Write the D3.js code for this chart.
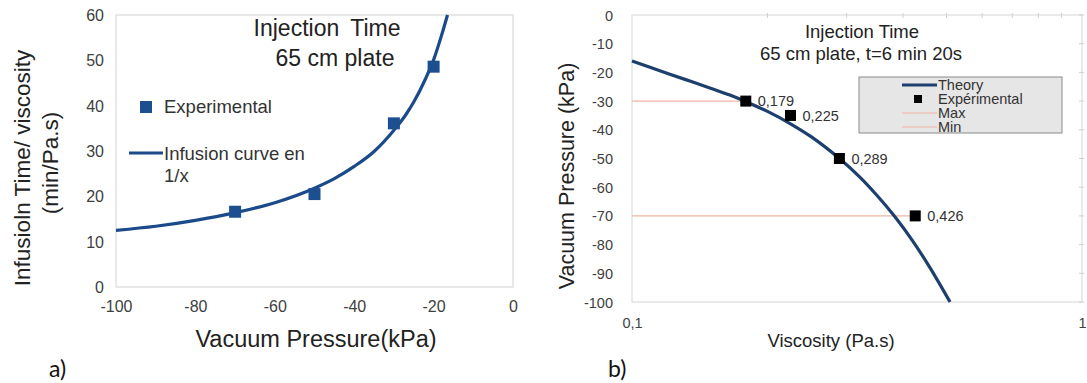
<!DOCTYPE html>
<html><head><meta charset="utf-8">
<script src="https://cdn.jsdelivr.net/npm/d3@7"></script>
<style>
html,body{margin:0;padding:0;background:#fff;}
svg{display:block;font-family:"Liberation Sans",Arial,sans-serif;}
</style></head>
<body><svg id="c" width="1087" height="383"></svg>
<script>
// ---------- Data: chart a) ----------
const aCurvePressure = [-100,-90,-80,-70,-60,-50,-45,-40,-35,-30,-27,-25,-22,-20,-18,-16.5];
const aCurveTime     = [12.5,13.4,14.7,16.4,18.6,21.8,23.9,26.6,29.9,34.6,38.0,40.8,46.0,50.1,55.5,60];
const aExpPressure   = [-70,-50,-30,-20];
const aExpTime       = [16.6,20.5,36.1,48.6];
const aXTicks = [-100,-80,-60,-40,-20,0];
const aYTicks = [0,10,20,30,40,50,60];

// ---------- Data: chart b) ----------
const bTheoryVisc = [0.1,0.12,0.135,0.15,0.165,0.179,0.2,0.225,0.25,0.289,0.32,0.35,0.384,0.42,0.46,0.509];
const bTheoryP    = [-16,-20.4,-23.1,-25.6,-27.9,-30.2,-33.6,-37.9,-42.4,-50,-56.3,-62.8,-70.3,-78.6,-88.2,-100];
const bExpVisc    = [0.179,0.225,0.289,0.426];
const bExpP       = [-30,-35,-50,-70];
const bExpLabels  = ["0,179","0,225","0,289","0,426"];
const bMaxVisc = [0.1,0.179], bMaxP = [-30,-30];
const bMinVisc = [0.1,0.426], bMinP = [-70,-70];
const bYTicks = [0,-10,-20,-30,-40,-50,-60,-70,-80,-90,-100];
const bXTicks = [0.1,1];
const bXTickLabels = ["0,1","1"];
const bMinorTicks = [0.2,0.3,0.4,0.5,0.6,0.7,0.8,0.9];

const svg = d3.select("#c");
const navyA = "#1b4a8a", navyB = "#1d3f6e";

// ================= Chart a) =================
{
  const L=116,R=513,T=15,B=287;
  const x = d3.scaleLinear().domain([-100,0]).range([L,R]);
  const y = d3.scaleLinear().domain([0,60]).range([B,T]);
  const g = svg.append("g");
  g.append("rect").attr("x",L).attr("y",T).attr("width",R-L).attr("height",B-T)
    .attr("fill","none").attr("stroke","#d9d9d9").attr("stroke-width",1.2);
  const yAx = g.append("g").attr("transform",`translate(${L-12},0)`)
    .call(d3.axisLeft(y).tickValues(aYTicks).tickSize(0).tickPadding(0).tickFormat(d=>String(d)));
  const xAx = g.append("g").attr("transform",`translate(0,${B+14})`)
    .call(d3.axisBottom(x).tickValues(aXTicks).tickSize(0).tickPadding(0).tickFormat(d=>String(d)));
  [yAx,xAx].forEach(a=>{a.select(".domain").remove();
    a.selectAll("text").attr("fill","#404040").style("font-size","16px").style("font-family","Liberation Sans, Arial, sans-serif");});
  yAx.selectAll("text").attr("dy","0.35em");
  xAx.selectAll("text").attr("dy","0.71em");

  g.append("defs").append("clipPath").attr("id","clipA").append("rect")
    .attr("x",L).attr("y",T-1).attr("width",R-L).attr("height",B-T+1);
  const line = d3.line().curve(d3.curveMonotoneX).x(d=>x(d[0])).y(d=>y(d[1]));
  g.append("path").attr("clip-path","url(#clipA)")
    .attr("d",line(d3.zip(aCurvePressure,aCurveTime)))
    .attr("fill","none").attr("stroke",navyA).attr("stroke-width",3.2);
  g.selectAll(".ma").data(d3.zip(aExpPressure,aExpTime)).join("rect")
    .attr("x",d=>x(d[0])-6).attr("y",d=>y(d[1])-6).attr("width",12).attr("height",12)
    .attr("fill","#1c4f8f");

  const t = g.append("text").attr("text-anchor","middle").attr("fill","#222").style("font-size","23px");
  t.append("tspan").attr("x",327).attr("y",36).attr("word-spacing","5px").text("Injection Time");
  t.append("tspan").attr("x",335).attr("y",66).text("65 cm plate");

  g.append("rect").attr("x",140).attr("y",101).attr("width",12).attr("height",12).attr("fill","#1c4f8f");
  g.append("text").attr("x",164).attr("y",113).attr("fill","#333").style("font-size","18.5px").text("Experimental");
  g.append("line").attr("x1",129).attr("x2",163).attr("y1",153).attr("y2",153).attr("stroke",navyA).attr("stroke-width",3.2);
  const lt = g.append("text").attr("fill","#333").style("font-size","18.5px");
  lt.append("tspan").attr("x",164).attr("y",160).text("Infusion curve en");
  lt.append("tspan").attr("x",164).attr("y",182).text("1/x");

  g.append("text").attr("x",316).attr("y",347).attr("text-anchor","middle").attr("fill","#222")
    .style("font-size","23.5px").text("Vacuum Pressure(kPa)");
  const yt = g.append("text").attr("transform","translate(0,168) rotate(-90)").attr("text-anchor","middle")
    .attr("fill","#222").style("font-size","22.5px");
  yt.append("tspan").attr("x",0).attr("y",30).text("Infusioln Time/ viscosity");
  yt.append("tspan").attr("x",5).attr("y",58).text("(min/Pa.s)");

  g.append("text").attr("x",49).attr("y",377).attr("fill","#111").style("font-family","Lato, 'Open Sans', sans-serif")
    .style("font-size","23px").text("a)");
}

// ================= Chart b) =================
{
  const L=632,R=1082,T=15,B=302;
  const x = d3.scaleLog().domain([0.1,1]).range([L,R]);
  const y = d3.scaleLinear().domain([-100,0]).range([B,T]);
  const g = svg.append("g");
  g.append("rect").attr("x",L).attr("y",T).attr("width",R-L).attr("height",B-T)
    .attr("fill","none").attr("stroke","#dcdcdc").attr("stroke-width",1.2);
  g.selectAll(".tt").data(bMinorTicks).join("line")
    .attr("x1",d=>x(d)).attr("x2",d=>x(d)).attr("y1",T-2).attr("y2",T+3)
    .attr("stroke","#d0d0d0").attr("stroke-width",1);
  g.selectAll(".rt").data(bYTicks).join("line")
    .attr("x1",R-3).attr("x2",R+2).attr("y1",d=>y(d)).attr("y2",d=>y(d))
    .attr("stroke","#d0d0d0").attr("stroke-width",1);

  const yAx = g.append("g").attr("transform",`translate(${L-19},0)`)
    .call(d3.axisLeft(y).tickValues(bYTicks).tickSize(0).tickPadding(0).tickFormat(d=>String(d)));
  const xAx = g.append("g").attr("transform",`translate(0,${B+16})`)
    .call(d3.axisBottom(x).tickValues(bXTicks).tickSize(0).tickPadding(0).tickFormat((d,i)=>bXTickLabels[i]));
  [yAx,xAx].forEach(a=>{a.select(".domain").remove();
    a.selectAll("text").attr("fill","#404040").style("font-size","14.5px").style("font-family","Liberation Sans, Arial, sans-serif");});
  yAx.selectAll("text").attr("dy","0.35em");
  xAx.selectAll("text").attr("dy","0.71em");

  const lin = d3.line().x(d=>x(d[0])).y(d=>y(d[1]));
  g.append("path").attr("d",lin(d3.zip(bMaxVisc,bMaxP))).attr("stroke","#f0b4a6").attr("stroke-width",1.2).attr("fill","none");
  g.append("path").attr("d",lin(d3.zip(bMinVisc,bMinP))).attr("stroke","#f0b4a6").attr("stroke-width",1.2).attr("fill","none");

  const curve = d3.line().curve(d3.curveCatmullRom.alpha(0.5)).x(d=>x(d[0])).y(d=>y(d[1]));
  g.append("path").attr("d",curve(d3.zip(bTheoryVisc,bTheoryP)))
    .attr("fill","none").attr("stroke",navyB).attr("stroke-width",3.2);

  const pts = d3.zip(bExpVisc,bExpP,bExpLabels);
  g.selectAll(".mb").data(pts).join("rect")
    .attr("x",d=>x(d[0])-5.5).attr("y",d=>y(d[1])-5.5).attr("width",11).attr("height",11).attr("fill","#000");
  g.selectAll(".lb").data(pts).join("text")
    .attr("x",d=>x(d[0])+12).attr("y",d=>y(d[1])).attr("dy","0.35em")
    .attr("fill","#333").style("font-size","14.5px").text(d=>d[2]);

  const t = g.append("text").attr("text-anchor","middle").attr("fill","#222").style("font-size","18.5px");
  t.append("tspan").attr("x",862).attr("y",38).text("Injection Time");
  t.append("tspan").attr("x",861).attr("y",60).text("65 cm plate, t=6 min 20s");

  const lx=859, ly=77;
  g.append("rect").attr("x",lx).attr("y",ly).attr("width",203).attr("height",56)
    .attr("fill","#e6e6e6").attr("stroke","#8a8a8a").attr("stroke-width",1);
  g.append("line").attr("x1",902).attr("x2",937).attr("y1",85).attr("y2",85).attr("stroke",navyB).attr("stroke-width",3);
  g.append("rect").attr("x",914).attr("y",95).attr("width",8).attr("height",8).attr("fill","#000");
  g.append("line").attr("x1",902).attr("x2",937).attr("y1",113).attr("y2",113).attr("stroke","#f0b4a6").attr("stroke-width",1.2);
  g.append("line").attr("x1",902).attr("x2",937).attr("y1",127).attr("y2",127).attr("stroke","#f0b4a6").attr("stroke-width",1.2);
  const leg = ["Theory","Expérimental","Max","Min"], legY=[85,99,113,127];
  g.selectAll(".lt").data(leg).join("text").attr("x",938).attr("y",(d,i)=>legY[i]).attr("dy","0.35em")
    .attr("fill","#333").style("font-size","14.5px").text(d=>d);

  g.append("text").attr("x",831).attr("y",347).attr("text-anchor","middle").attr("fill","#222")
    .style("font-size","18.5px").text("Viscosity (Pa.s)");
  g.append("text").attr("transform","translate(574,176) rotate(-90)").attr("text-anchor","middle")
    .attr("fill","#222").style("font-size","21.5px").text("Vacuum Pressure (kPa)");

  g.append("text").attr("x",608).attr("y",377).attr("fill","#111").style("font-family","Lato, 'Open Sans', sans-serif")
    .style("font-size","23px").text("b)");
}
</script></body></html>
